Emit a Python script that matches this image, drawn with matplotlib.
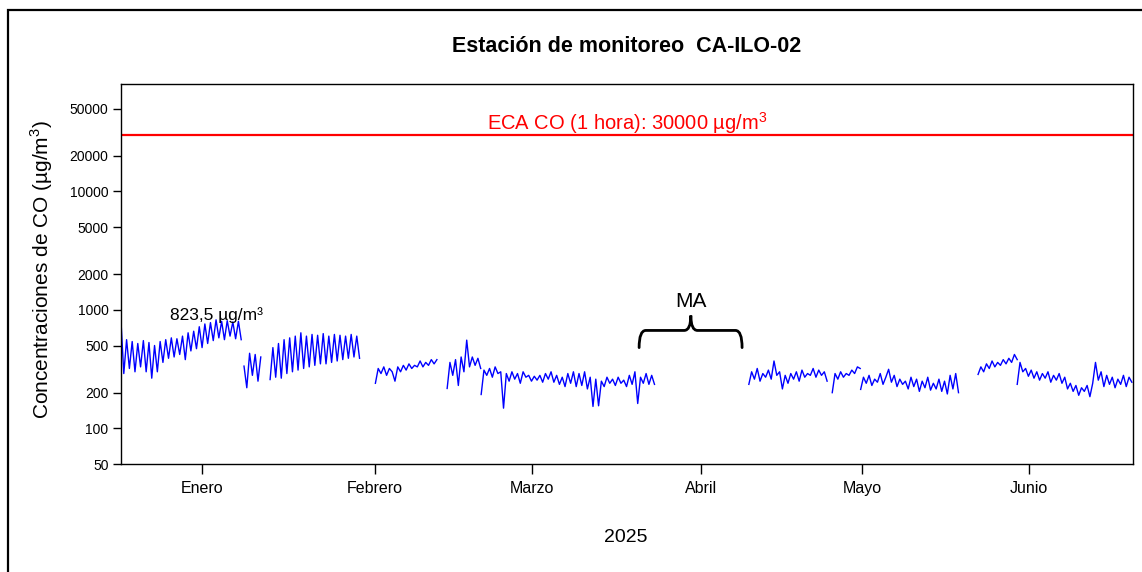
import pandas as pd
import matplotlib
matplotlib.use('Agg')
import matplotlib.pyplot as plt
import matplotlib.dates as mdates
from matplotlib.path import Path
from matplotlib.patches import PathPatch, Rectangle

plt.rcParams['font.family'] = ['Liberation Sans', 'DejaVu Sans']
plt.rcParams['mathtext.fontset'] = 'custom'
plt.rcParams['mathtext.rm'] = 'Liberation Sans'

# concentraciones de CO (ug/m3), lecturas cada 12 horas por tramo continuo
seg_starts = ['2025-01-01 00:00', '2025-01-23 00:00', '2025-01-27 16:00',
              '2025-02-15 12:00', '2025-02-28 08:00', '2025-03-06 10:00',
              '2025-04-23 07:00', '2025-05-08 05:00', '2025-05-13 07:00',
              '2025-06-03 07:00', '2025-06-10 07:00']

seg_ene1 = [800, 290, 560, 320, 540, 300, 520, 330, 550, 300, 530, 265, 500, 300,
            540, 360, 560, 390, 580, 400, 570, 420, 600, 380, 640, 450, 660, 470,
            720, 480, 760, 520, 780, 550, 823.5, 580, 800, 560, 810, 600, 790, 570,
            800, 560]
seg_ene2 = [335, 220, 430, 280, 420, 250, 400]
seg_ene_feb = [258, 480, 270, 520, 265, 560, 290, 580, 300, 600, 310, 640, 320, 600,
               330, 620, 340, 610, 350, 630, 350, 600, 360, 620, 370, 610, 380, 600,
               390, 620, 400, 600, 390]
seg_feb = [240, 320, 290, 330, 280, 320, 300, 250, 330, 300, 340, 310, 350, 320,
           340, 330, 370, 330, 360, 340, 380, 350, 380]
seg_feb_mar = [217, 360, 280, 380, 230, 400, 300, 555, 330, 400, 340, 390, 320]
seg_mar = [193, 310, 280, 320, 270, 330, 290, 300, 148, 290, 250, 300, 260, 290,
           240, 300, 270, 280, 250, 275, 255, 280, 245, 290, 260, 300, 245, 280,
           235, 270, 225, 290, 240, 300, 225, 290, 230, 300, 215, 270, 153, 260,
           155, 250, 225, 270, 240, 260, 230, 270, 240, 255, 225, 280, 235, 300,
           162, 270, 240, 290, 235, 280, 235]
seg_abr = [235, 300, 260, 320, 250, 290, 270, 310, 260, 370, 280, 300, 215, 280,
           240, 290, 260, 300, 250, 310, 270, 290, 280, 320, 270, 310, 280, 300, 250]
seg_may1 = [200, 290, 260, 300, 270, 290, 280, 310, 290, 330, 320]
seg_may2 = [213, 270, 240, 280, 230, 260, 245, 290, 235, 270, 315, 245, 280, 225,
            260, 235, 250, 215, 270, 225, 260, 205, 250, 220, 270, 210, 240, 215,
            260, 205, 250, 195, 280, 215, 290, 200]
seg_jun1 = [285, 330, 300, 350, 320, 370, 330, 360, 340, 380, 350, 390, 360, 420, 380]
seg_jun2 = [235, 360, 300, 320, 275, 310, 265, 300, 255, 290, 265, 300, 245, 280,
            255, 290, 240, 270, 215, 240, 205, 230, 190, 220, 205, 230, 185, 240,
            360, 255, 300, 225, 280, 235, 270, 220, 260, 235, 280, 225, 270, 245]
segments = [seg_ene1, seg_ene2, seg_ene_feb, seg_feb, seg_feb_mar, seg_mar,
            seg_abr, seg_may1, seg_may2, seg_jun1, seg_jun2]

eca_co = 30000
max_label = '823,5 µg/m³'
max_date = '2025-01-18 00:00'

meses = ['Enero', 'Febrero', 'Marzo', 'Abril', 'Mayo', 'Junio']
tick_dates = ['2025-01-15 10:00', '2025-02-15 10:00', '2025-03-15 12:00',
              '2025-04-14 17:00', '2025-05-13 14:00', '2025-06-12 10:00']
y_ticks = [50, 100, 200, 500, 1000, 2000, 5000, 10000, 20000, 50000]

# periodo sin datos (MA)
ma_left = '2025-04-03 16:00'
ma_mid = '2025-04-12 22:00'
ma_right = '2025-04-22 02:00'

W, H = 1142, 572
fig = plt.figure(figsize=(W / 100, H / 100), dpi=100)
ax = fig.add_axes([121 / W, 1 - 464 / H, (1133 - 121) / W, (464 - 84) / H])

for start, vals in zip(seg_starts, segments):
    t = pd.date_range(start, periods=len(vals), freq='12h')
    ax.plot(t, vals, color='#0000ff', lw=1)

ax.axhline(eca_co, color='#ff0000', lw=1.6)

ax.set_yscale('log')
ax.set_ylim(50, 80500)
ax.set_xlim(pd.Timestamp('2025-01-01'), pd.Timestamp('2025-07-01'))

ax.yaxis.set_major_locator(matplotlib.ticker.FixedLocator(y_ticks))
ax.yaxis.set_major_formatter(matplotlib.ticker.FixedFormatter([str(v) for v in y_ticks]))
ax.yaxis.set_minor_locator(matplotlib.ticker.NullLocator())
ax.set_xticks(pd.to_datetime(tick_dates))
ax.set_xticklabels(meses)
ax.xaxis.set_minor_locator(matplotlib.ticker.NullLocator())
ax.tick_params(axis='y', labelsize=10, length=6, width=1, pad=3)
ax.tick_params(axis='x', labelsize=11.5, length=7, width=1, pad=5)
for s in ax.spines.values():
    s.set_linewidth(1)

# texto de la norma sobre la linea roja
tr = matplotlib.transforms.blended_transform_factory(ax.transAxes, ax.transData)
ax.text(0.5, 33000, 'ECA CO (1 hora): 30000 µg/m$^{\\mathregular{3}}$', color='#ff0000',
        fontsize=14.5, ha='center', va='baseline', transform=tr)

ax.text(pd.Timestamp(max_date), 900, max_label, fontsize=12.5, ha='center', va='center')

# llave del periodo MA
xl = mdates.date2num(pd.Timestamp(ma_left))
xm = mdates.date2num(pd.Timestamp(ma_mid))
xr = mdates.date2num(pd.Timestamp(ma_right))
base, arm, tip = 480, 670, 895
r = 1.2
verts = [(xl, base), (xl, arm), (xl + r, arm), (xm - r, arm), (xm, arm), (xm, tip),
         (xm, arm), (xm + r, arm), (xr - r, arm), (xr, arm), (xr, base)]
codes = [Path.MOVETO, Path.CURVE3, Path.CURVE3, Path.LINETO, Path.CURVE3, Path.CURVE3,
         Path.CURVE3, Path.CURVE3, Path.LINETO, Path.CURVE3, Path.CURVE3]
ax.add_patch(PathPatch(Path(verts, codes), fill=False, lw=2, ec='black', capstyle='round'))
ax.text(xm, 1180, 'MA', fontsize=15, ha='center', va='center')

fig.text(627 / W, 1 - 47 / H, 'Estación de monitoreo  CA-ILO-02', fontsize=15.5,
         fontweight='bold', ha='center', va='center')
fig.text(42 / W, 1 - 270 / H, 'Concentraciones de CO (µg/m$^{\\mathregular{3}}$)',
         fontsize=15, rotation=90, ha='center', va='center')
fig.text(626 / W, 1 - 538 / H, '2025', fontsize=14, ha='center', va='center')

fig.patches.append(Rectangle((8 / W, -0.2), 2, 1.2 - 9.5 / H, transform=fig.transFigure,
                             fill=False, lw=1.6, ec='black'))

fig.savefig('out.png', dpi=100)
